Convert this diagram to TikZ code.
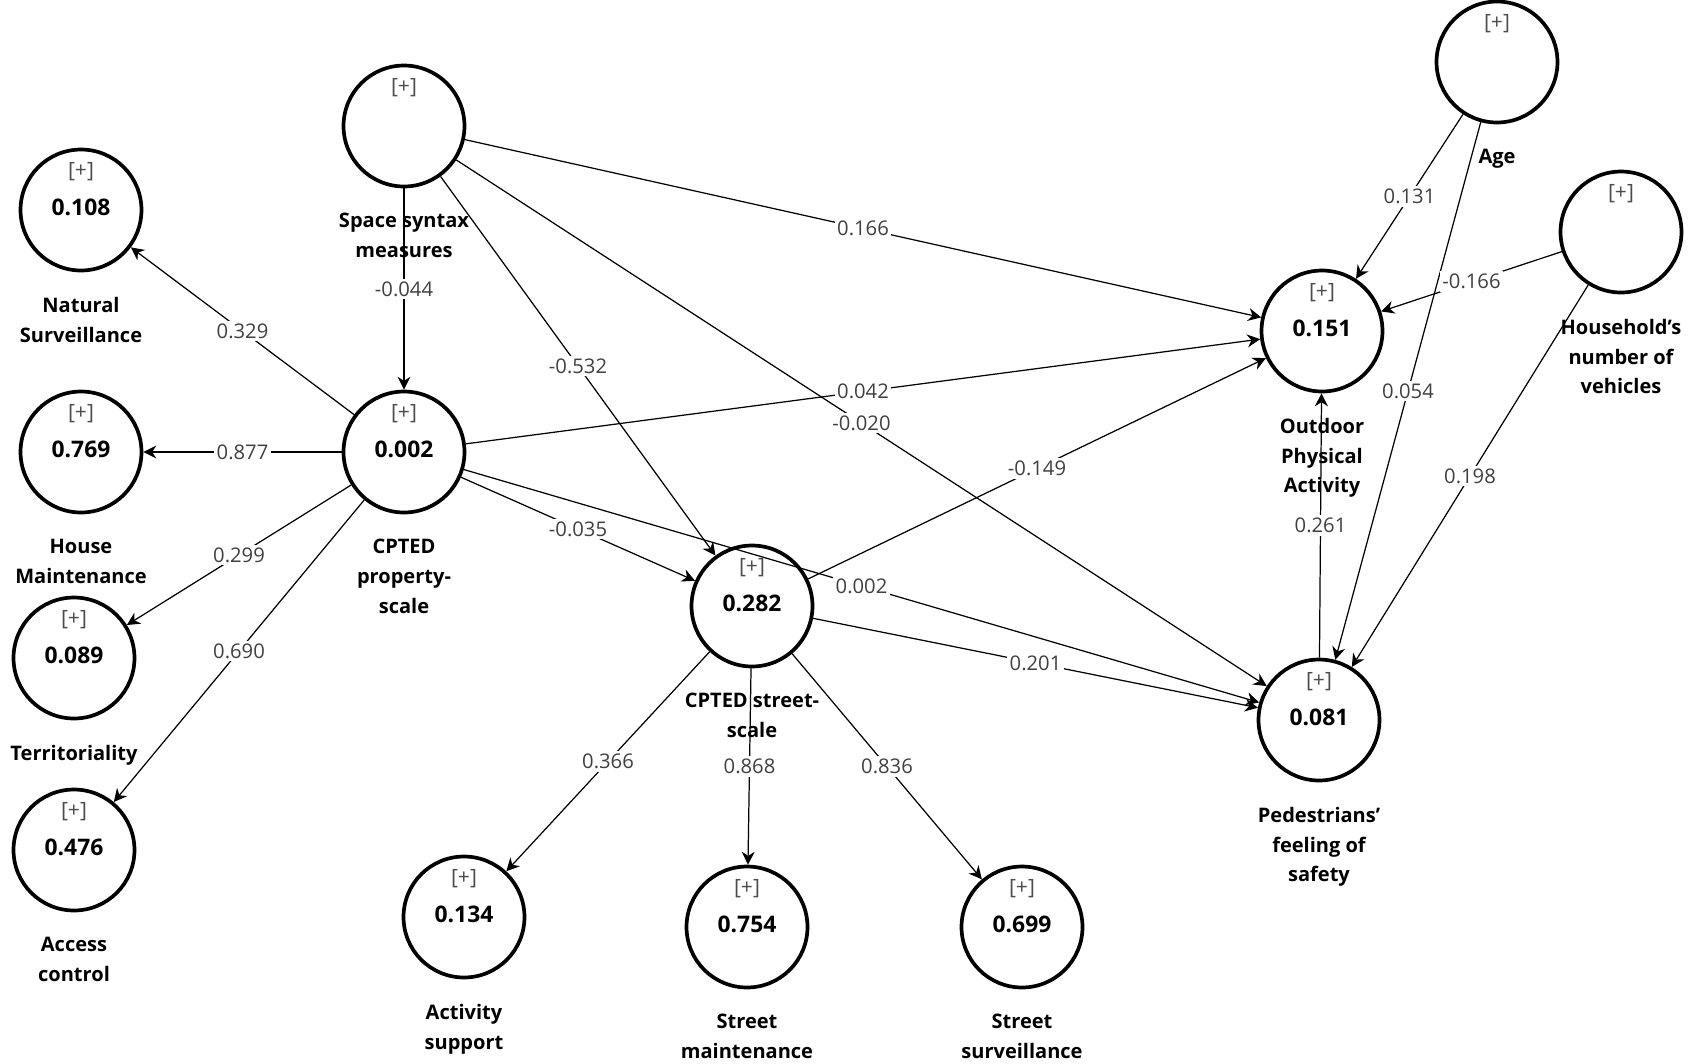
\documentclass[tikz,border=0pt]{standalone}
\usepackage{fontspec}
\setmainfont{Open Sans}
\usetikzlibrary{arrows.meta}

\begin{document}
\begin{tikzpicture}[
    x=0.02cm, y=-0.02cm,
    latent/.style={draw, circle, line width=2.1pt, minimum size=2.42cm, inner sep=0pt},
    plusmark/.style={text=black!70, font=\fontsize{12}{14}\selectfont},
    rsq/.style={font=\bfseries\fontsize{13}{15}\selectfont},
    lvname/.style={anchor=north, align=center, font=\bfseries\fontsize{11.4}{16.9}\selectfont},
    effect/.style={-{Stealth[length=0.26cm, width=0.26cm]}, line width=0.7pt},
    coef/.style={fill=white, text=black!75, inner sep=1.5pt, font=\fontsize{11.5}{13}\selectfont}
    ]
        \useasboundingbox (0,0) rectangle (1691,1063);

        \begin{scope}[shift={(404,126)}]
            \node [latent] (ss) at (0,0) {};
            \node at (0,-38) [plusmark] {[+]};
            \node at (0,81) [lvname] {Space syntax\\measures};
        \end{scope}

        \begin{scope}[shift={(81,210)}]
            \node [latent] (ns) at (0,0) {};
            \node at (0,-38) [plusmark] {[+]};
            \node at (0,-3) [rsq] {0.108};
            \node at (0,81) [lvname] {Natural\\Surveillance};
        \end{scope}

        \begin{scope}[shift={(404,452)}]
            \node [latent] (cp) at (0,0) {};
            \node at (0,-38) [plusmark] {[+]};
            \node at (0,-3) [rsq] {0.002};
            \node at (0,81) [lvname] {CPTED\\property-\\scale};
        \end{scope}

        \begin{scope}[shift={(81,452)}]
            \node [latent] (hm) at (0,0) {};
            \node at (0,-38) [plusmark] {[+]};
            \node at (0,-3) [rsq] {0.769};
            \node at (0,81) [lvname] {House\\Maintenance};
        \end{scope}

        \begin{scope}[shift={(74,658)}]
            \node [latent] (tr) at (0,0) {};
            \node at (0,-38) [plusmark] {[+]};
            \node at (0,-3) [rsq] {0.089};
            \node at (0,81) [lvname] {Territoriality};
        \end{scope}

        \begin{scope}[shift={(74,850)}]
            \node [latent] (ac) at (0,0) {};
            \node at (0,-38) [plusmark] {[+]};
            \node at (0,-3) [rsq] {0.476};
            \node at (0,81) [lvname] {Access\\control};
        \end{scope}

        \begin{scope}[shift={(464,917)}]
            \node [latent] (as) at (0,0) {};
            \node at (0,-38) [plusmark] {[+]};
            \node at (0,-3) [rsq] {0.134};
            \node at (0,81) [lvname] {Activity\\support};
        \end{scope}

        \begin{scope}[shift={(752,606)}]
            \node [latent] (cs) at (0,0) {};
            \node at (0,-38) [plusmark] {[+]};
            \node at (0,-3) [rsq] {0.282};
            \node at (0,81) [lvname] {CPTED street-\\scale};
        \end{scope}

        \begin{scope}[shift={(747,927)}]
            \node [latent] (sm) at (0,0) {};
            \node at (0,-38) [plusmark] {[+]};
            \node at (0,-3) [rsq] {0.754};
            \node at (0,81) [lvname] {Street\\maintenance};
        \end{scope}

        \begin{scope}[shift={(1022,927)}]
            \node [latent] (sv) at (0,0) {};
            \node at (0,-38) [plusmark] {[+]};
            \node at (0,-3) [rsq] {0.699};
            \node at (0,81) [lvname] {Street\\surveillance};
        \end{scope}

        \begin{scope}[shift={(1322,331)}]
            \node [latent] (opa) at (0,0) {};
            \node at (0,-38) [plusmark] {[+]};
            \node at (0,-3) [rsq] {0.151};
            \node at (0,81) [lvname] {Outdoor\\Physical\\Activity};
        \end{scope}

        \begin{scope}[shift={(1319,720)}]
            \node [latent] (pfs) at (0,0) {};
            \node at (0,-38) [plusmark] {[+]};
            \node at (0,-3) [rsq] {0.081};
            \node at (0,81) [lvname] {Pedestrians'\\feeling of\\safety};
        \end{scope}

        \begin{scope}[shift={(1497,62)}]
            \node [latent] (age) at (0,0) {};
            \node at (0,-38) [plusmark] {[+]};
            \node at (0,81) [lvname] {Age};
        \end{scope}

        \begin{scope}[shift={(1621,232)}]
            \node [latent] (hh) at (0,0) {};
            \node at (0,-38) [plusmark] {[+]};
            \node at (0,81) [lvname] {Household's\\number of\\vehicles};
        \end{scope}

        \draw [effect] (cp) -- (ns) node [coef, midway] {0.329};
        \draw [effect] (cp) -- (hm) node [coef, midway] {0.877};
        \draw [effect] (cp) -- (tr) node [coef, midway] {0.299};
        \draw [effect] (cp) -- (ac) node [coef, midway] {0.690};
        \draw [effect] (ss) -- (cp) node [coef, midway] {-0.044};
        \draw [effect] (ss) -- (pfs) node [coef, midway] {-0.020};
        \draw [effect] (ss) -- (opa) node [coef, midway] {0.166};
        \draw [effect] (ss) -- (cs) node [coef, midway] {-0.532};
        \draw [effect] (cp) -- (cs) node [coef, midway] {-0.035};
        \draw [effect] (cp) -- (opa) node [coef, midway] {0.042};
        \draw [effect] (cp) -- (pfs) node [coef, midway] {0.002};
        \draw [effect] (cs) -- (opa) node [coef, midway] {-0.149};
        \draw [effect] (cs) -- (pfs) node [coef, midway] {0.201};
        \draw [effect] (cs) -- (as) node [coef, midway] {0.366};
        \draw [effect] (cs) -- (sm) node [coef, midway] {0.868};
        \draw [effect] (cs) -- (sv) node [coef, midway] {0.836};
        \draw [effect] (age) -- (pfs) node [coef, midway] {0.054};
        \draw [effect] (age) -- (opa) node [coef, midway] {0.131};
        \draw [effect] (hh) -- (opa) node [coef, midway] {-0.166};
        \draw [effect] (hh) -- (pfs) node [coef, midway] {0.198};
        \draw [effect] (pfs) -- (opa) node [coef, midway] {0.261};
\end{tikzpicture}
\end{document}
